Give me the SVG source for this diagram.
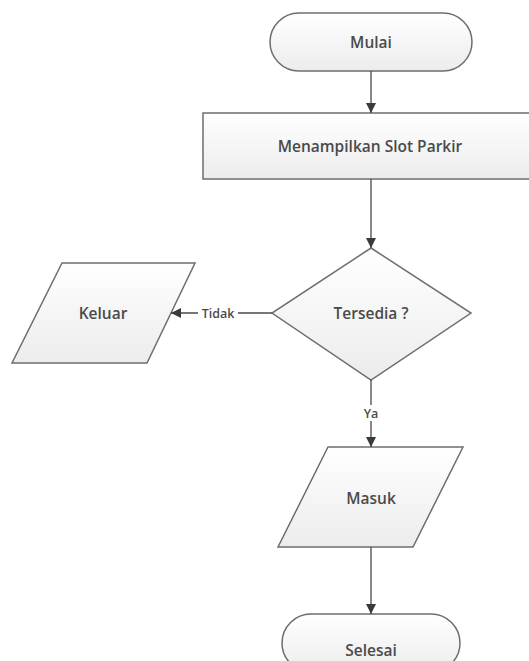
<svg xmlns="http://www.w3.org/2000/svg" width="529" height="661" viewBox="0 0 529 661">
<defs>
<linearGradient id="g" x1="0" y1="0" x2="0" y2="1">
<stop offset="0" stop-color="#ffffff"/>
<stop offset="1" stop-color="#ececec"/>
</linearGradient>
<marker id="ah" viewBox="0 0 10 10" refX="10" refY="5" markerWidth="10" markerHeight="10" markerUnits="userSpaceOnUse" orient="auto">
<path d="M0,0 L10,5 L0,10 Z" fill="#3a3a3a"/>
</marker>
</defs>
<style>
.shape{fill:url(#g);stroke:#6e6e6e;stroke-width:1.5}
.lbl{font-family:"Open Sans",sans-serif;font-size:15.5px;font-weight:600;fill:#4a4a4a;text-anchor:middle;dominant-baseline:central}
.small{font-family:"Open Sans",sans-serif;font-size:12.5px;font-weight:600;fill:#4a4a4a;text-anchor:middle;dominant-baseline:central}
.conn{stroke:#4a4a4a;stroke-width:1.3;fill:none}
</style>
<rect width="529" height="661" fill="#ffffff"/>
<g id="mulai">
<rect class="shape" x="270" y="13" width="202" height="58" rx="29"/>
<text class="lbl" x="371" y="42">Mulai</text>
</g>
<g id="menampilkan">
<rect class="shape" x="203" y="113" width="336" height="66"/>
<text class="lbl" x="370" y="146">Menampilkan Slot Parkir</text>
</g>
<g id="tersedia">
<polygon class="shape" points="371,248 471,313 371,380 272,313"/>
<text class="lbl" x="371" y="313">Tersedia ?</text>
</g>
<g id="keluar">
<polygon class="shape" points="62,263 195,263 147,363 12,363"/>
<text class="lbl" x="103" y="313">Keluar</text>
</g>
<g id="masuk">
<polygon class="shape" points="328,447 463,447 413,547 278,547"/>
<text class="lbl" x="371" y="498">Masuk</text>
</g>
<g id="selesai">
<rect class="shape" x="282" y="614" width="178" height="58" rx="29"/>
<text class="lbl" x="371" y="650">Selesai</text>
</g>
<g id="connectors">
<line class="conn" x1="371" y1="71" x2="371" y2="113" marker-end="url(#ah)"/>
<line class="conn" x1="371" y1="179" x2="371" y2="248" marker-end="url(#ah)"/>
<line class="conn" x1="272" y1="313" x2="171" y2="313" marker-end="url(#ah)"/>
<rect x="198" y="305" width="40" height="16" fill="#ffffff"/>
<text class="small" x="218" y="313">Tidak</text>
<line class="conn" x1="371" y1="380" x2="371" y2="447" marker-end="url(#ah)"/>
<rect x="361" y="405" width="20" height="16" fill="#ffffff"/>
<text class="small" x="371" y="413">Ya</text>
<line class="conn" x1="371" y1="547" x2="371" y2="614" marker-end="url(#ah)"/>
</g>
</svg>
